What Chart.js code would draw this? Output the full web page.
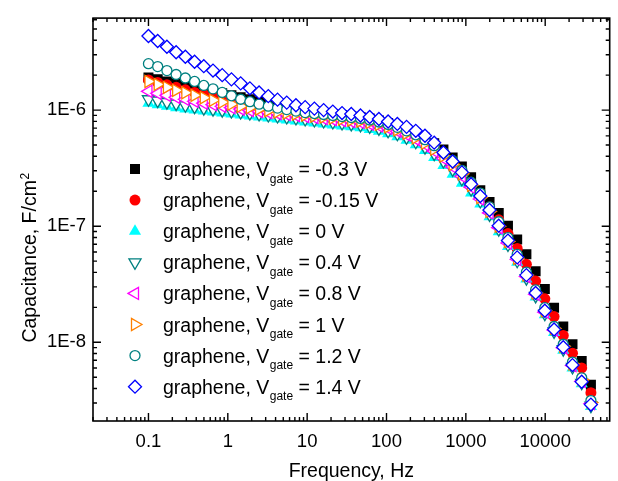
<!DOCTYPE html>
<html>
<head>
<meta charset="utf-8">
<script src="https://cdn.jsdelivr.net/npm/chart.js@4.4.1/dist/chart.umd.min.js"></script>
<style>
html,body{margin:0;padding:0;background:#fff;}
#wrap{width:618px;height:481px;position:relative;}
</style>
</head>
<body>
<div id="wrap"><canvas id="c" width="618" height="481"></canvas></div>
<script>
// ---------- data (capacitance in µF/cm², frequency in Hz) ----------
const frequencyHz = [0.1, 0.1307, 0.1708, 0.2232, 0.2916, 0.3811, 0.498, 0.6508, 0.8502, 1.111,
  1.452, 1.897, 2.478, 3.238, 4.231, 5.528, 7.223, 9.438, 12.33, 16.12,
  21.06, 27.52, 35.96, 46.99, 61.40, 80.23, 104.8, 137.0, 178.9, 233.8,
  305.5, 399.2, 521.7, 681.7, 890.8, 1164, 1521, 1988, 2597, 3394,
  4435, 5795, 7572, 9893, 12930, 16890, 22080, 28840, 37690];

const vgateLabels = ['-0.3 V', '-0.15 V', '0 V', '0.4 V', '0.8 V', '1 V', '1.2 V', '1.4 V'];

const capVm030 = [1.91, 1.84, 1.765, 1.70, 1.63, 1.57, 1.51, 1.45, 1.395, 1.34,
  1.29, 1.24, 1.19, 1.147, 1.10, 1.06, 1.03, 1.00, 0.971, 0.943,
  0.925, 0.907, 0.889, 0.872, 0.847, 0.814, 0.775, 0.731, 0.682, 0.631,
  0.578, 0.519, 0.457, 0.390, 0.327, 0.264, 0.2045, 0.1616, 0.1302, 0.101,
  0.0768, 0.0572, 0.0410, 0.0288, 0.01986, 0.01368, 0.00962, 0.00689, 0.00431];

const capVm015 = [1.82, 1.73, 1.65, 1.57, 1.494, 1.42, 1.368, 1.32, 1.265, 1.216,
  1.17, 1.125, 1.08, 1.04, 1.01, 0.981, 0.952, 0.934, 0.916, 0.898,
  0.880, 0.863, 0.847, 0.830, 0.806, 0.775, 0.738, 0.696, 0.650, 0.601,
  0.545, 0.484, 0.422, 0.361, 0.297, 0.239, 0.1854, 0.1466, 0.1136, 0.0864,
  0.0644, 0.0470, 0.0337, 0.0237, 0.01665, 0.01147, 0.00806, 0.00601, 0.00368];

const capV000 = [1.147, 1.114, 1.08, 1.05, 1.02, 1.00, 0.981, 0.962, 0.943, 0.925,
  0.907, 0.889, 0.872, 0.855, 0.838, 0.822, 0.806, 0.790, 0.775, 0.760,
  0.745, 0.731, 0.717, 0.703, 0.682, 0.656, 0.625, 0.589, 0.550, 0.504,
  0.448, 0.390, 0.334, 0.280, 0.2345, 0.1928, 0.1554, 0.1205, 0.0898, 0.0669,
  0.0489, 0.0351, 0.0246, 0.0173, 0.01216, 0.00855, 0.00601, 0.00439, 0.00280];

const capV040 = [1.24, 1.205, 1.17, 1.136, 1.10, 1.071, 1.04, 1.02, 1.00, 0.981,
  0.962, 0.943, 0.925, 0.907, 0.889, 0.872, 0.855, 0.838, 0.822, 0.806,
  0.790, 0.775, 0.760, 0.745, 0.724, 0.696, 0.663, 0.625, 0.583, 0.534,
  0.480, 0.422, 0.364, 0.3086, 0.256, 0.2086, 0.1648, 0.1265, 0.0943, 0.0696,
  0.0504, 0.0357, 0.0251, 0.01765, 0.0124, 0.00872, 0.00613, 0.00448, 0.00285];

const capV080 = [1.45, 1.395, 1.34, 1.29, 1.24, 1.19, 1.147, 1.114, 1.08, 1.05,
  1.02, 0.990, 0.971, 0.952, 0.934, 0.916, 0.898, 0.880, 0.863, 0.847,
  0.830, 0.814, 0.798, 0.783, 0.760, 0.731, 0.696, 0.656, 0.613, 0.561,
  0.504, 0.443, 0.383, 0.324, 0.269, 0.2169, 0.1714, 0.1302, 0.0971, 0.0717,
  0.0519, 0.0368, 0.0259, 0.01818, 0.01278, 0.00898, 0.00631, 0.00461, 0.00297];

const capV100 = [1.765, 1.665, 1.57, 1.48, 1.409, 1.34, 1.278, 1.216, 1.17, 1.125,
  1.08, 1.05, 1.02, 0.990, 0.962, 0.943, 0.925, 0.907, 0.889, 0.872,
  0.855, 0.838, 0.822, 0.806, 0.783, 0.753, 0.717, 0.676, 0.631, 0.578,
  0.519, 0.461, 0.402, 0.340, 0.2826, 0.2255, 0.1765, 0.1341, 0.100, 0.0738,
  0.0529, 0.0379, 0.0266, 0.0187, 0.01315, 0.00925, 0.0065, 0.00475, 0.00303];

const capV120 = [2.51, 2.37, 2.19, 2.025, 1.89, 1.765, 1.63, 1.524, 1.42, 1.328,
  1.24, 1.181, 1.125, 1.08, 1.04, 1.01, 0.981, 0.952, 0.934, 0.916,
  0.898, 0.880, 0.863, 0.847, 0.822, 0.790, 0.753, 0.710, 0.663, 0.613,
  0.556, 0.494, 0.431, 0.368, 0.3027, 0.239, 0.1928, 0.1466, 0.1092, 0.0798,
  0.0572, 0.0402, 0.02826, 0.01986, 0.01368, 0.00962, 0.00676, 0.00494, 0.00315];

const capV140 = [4.35, 3.94, 3.51, 3.15, 2.88, 2.61, 2.39, 2.19, 2.00, 1.84,
  1.70, 1.54, 1.42, 1.32, 1.23, 1.16, 1.10, 1.06, 1.03, 1.00,
  0.971, 0.943, 0.925, 0.898, 0.872, 0.838, 0.798, 0.760, 0.717, 0.663,
  0.601, 0.524, 0.431, 0.361, 0.291, 0.230, 0.182, 0.138, 0.101, 0.0752,
  0.0539, 0.0379, 0.0266, 0.0187, 0.0129, 0.00907, 0.00637, 0.00457, 0.00291];

const xTickValues = [0.1, 1, 10, 100, 1000, 10000];
const xTickLabels = ['0.1', '1', '10', '100', '1000', '10000'];
const yTickValues = [1e-8, 1e-7, 1e-6];
const yTickLabels = ['1E-8', '1E-7', '1E-6'];
const X_MIN = 0.02, X_MAX = 65000;
const Y_MIN = 2.1e-9, Y_MAX = 6.2e-6;
const MICRO = 1e-6;

// ---------- styles ----------
const FONT = '"Liberation Sans", Arial, sans-serif';
const seriesValues = [capVm030, capVm015, capV000, capV040, capV080, capV100, capV120, capV140];
const seriesStyles = [
  {style: 'rect',     rot: 0,   r: 7.07, fill: '#000000', stroke: '#000000', bw: 0},
  {style: 'circle',   rot: 0,   r: 5.5,  fill: '#ff0000', stroke: '#ff0000', bw: 0},
  {style: 'triangle', rot: 0,   r: 7,    fill: '#00ffff', stroke: '#00ffff', bw: 0},
  {style: 'triangle', rot: 180, r: 7,    fill: '#ffffff', stroke: '#008080', bw: 1.3},
  {style: 'triangle', rot: 270, r: 7,    fill: '#ffffff', stroke: '#ff00ff', bw: 1.3},
  {style: 'triangle', rot: 90,  r: 7,    fill: '#ffffff', stroke: '#ff8000', bw: 1.3},
  {style: 'circle',   rot: 0,   r: 5,    fill: '#ffffff', stroke: '#008080', bw: 1.3},
  {style: 'rectRot',  rot: 0,   r: 6.5,  fill: '#ffffff', stroke: '#0000ff', bw: 1.3}
];

const datasets = seriesValues.map((vals, i) => {
  const s = seriesStyles[i];
  return {
    label: 'graphene, Vgate = ' + vgateLabels[i],
    data: frequencyHz.map((f, k) => ({x: f, y: vals[k] * MICRO})),
    showLine: false,
    pointStyle: s.style,
    pointRotation: s.rot,
    pointRadius: s.r,
    pointBackgroundColor: s.fill,
    pointBorderColor: s.stroke,
    pointBorderWidth: s.bw,
    order: seriesValues.length - 1 - i
  };
});

// ---------- plugins ----------
function drawMarker(ctx, s, x, y) {
  ctx.save();
  ctx.fillStyle = s.fill; ctx.strokeStyle = s.stroke; ctx.lineWidth = s.bw;
  if (Chart.helpers && Chart.helpers.drawPoint) {
    Chart.helpers.drawPoint(ctx, {pointStyle: s.style, rotation: s.rot, radius: s.r, borderWidth: s.bw}, x, y);
  }
  ctx.restore();
}

const framePlugin = {
  id: 'originFrame',
  afterDatasetsDraw(chart) {
    const {ctx, chartArea: a, scales: {x, y}} = chart;
    ctx.save();
    ctx.strokeStyle = '#000';
    ctx.lineWidth = 1.4;
    ctx.beginPath();
    const MAJ = 8, MIN = 4;
    for (let e = -2; e <= 5; e++) {
      for (let m = 1; m <= 9; m++) {
        const v = m * Math.pow(10, e);
        if (v < X_MIN * 0.999 || v > X_MAX * 1.001) continue;
        const px = x.getPixelForValue(v);
        const L = m === 1 ? MAJ : MIN;
        ctx.moveTo(px, a.bottom); ctx.lineTo(px, a.bottom - L);
        ctx.moveTo(px, a.top); ctx.lineTo(px, a.top + L);
      }
    }
    for (let e = -9; e <= -6; e++) {
      for (let m = 1; m <= 9; m++) {
        const v = m * Math.pow(10, e);
        if (v < Y_MIN * 0.999 || v > Y_MAX * 1.001) continue;
        const py = y.getPixelForValue(v);
        const L = m === 1 ? MAJ : MIN;
        ctx.moveTo(a.left, py); ctx.lineTo(a.left + L, py);
        ctx.moveTo(a.right, py); ctx.lineTo(a.right - L, py);
      }
    }
    ctx.stroke();
    ctx.lineWidth = 1.6;
    ctx.strokeRect(a.left, a.top, a.right - a.left, a.bottom - a.top);
    ctx.restore();
  },
  afterDraw(chart) {
    const ctx = chart.ctx;
    ctx.save();
    ctx.fillStyle = '#000';
    // x title
    ctx.font = '19.5px ' + FONT;
    ctx.textAlign = 'center';
    ctx.textBaseline = 'alphabetic';
    ctx.fillText('Frequency, Hz', (chart.chartArea.left + chart.chartArea.right) / 2, 476.5);
    // y title (rotated, with superscript)
    ctx.save();
    ctx.translate(36, 258);
    ctx.rotate(-Math.PI / 2);
    ctx.textAlign = 'left';
    ctx.font = '19.5px ' + FONT;
    const main = 'Capacitance, F/cm';
    const wMain = ctx.measureText(main).width;
    ctx.font = '12px ' + FONT;
    const wSup = ctx.measureText('2').width;
    const x0 = -(wMain + wSup) / 2;
    ctx.font = '19.5px ' + FONT;
    ctx.fillText(main, x0, 0);
    ctx.font = '12px ' + FONT;
    ctx.fillText('2', x0 + wMain + 0.5, -7.5);
    ctx.restore();
    // legend
    const LX = 135, LY0 = 169, LSTEP = 31.1, TX = 163;
    seriesStyles.forEach((s, i) => {
      const yRow = LY0 + i * LSTEP;
      drawMarker(ctx, s, LX, yRow);
      ctx.fillStyle = '#000';
      ctx.textAlign = 'left';
      ctx.textBaseline = 'alphabetic';
      ctx.font = '19.5px ' + FONT;
      let tx = TX;
      ctx.fillText('graphene, V', tx, yRow + 7);
      tx += ctx.measureText('graphene, V').width + 0.5;
      ctx.font = '12px ' + FONT;
      ctx.fillText('gate', tx, yRow + 13.5);
      tx += ctx.measureText('gate').width;
      ctx.font = '19.5px ' + FONT;
      ctx.fillText(' = ' + vgateLabels[i], tx, yRow + 7);
    });
    ctx.restore();
  }
};

new Chart(document.getElementById('c'), {
  type: 'scatter',
  data: {datasets},
  options: {
    responsive: false,
    animation: false,
    devicePixelRatio: 1,
    layout: {padding: {left: 0, right: 7, top: 14, bottom: 0}},
    plugins: {legend: {display: false}, tooltip: {enabled: false}},
    scales: {
      x: {
        type: 'logarithmic', min: X_MIN, max: X_MAX,
        grid: {display: false, drawTicks: false},
        border: {display: false},
        ticks: {
          autoSkip: false, maxRotation: 0, padding: 10, color: '#000',
          font: {family: FONT, size: 18.5},
          callback: (v, i) => xTickLabels[i]
        },
        afterBuildTicks: s => { s.ticks = xTickValues.map(v => ({value: v})); },
        afterFit: s => { s.height = 60; }
      },
      y: {
        type: 'logarithmic', min: Y_MIN, max: Y_MAX,
        grid: {display: false, drawTicks: false},
        border: {display: false},
        ticks: {
          autoSkip: false, padding: 7, color: '#000',
          font: {family: FONT, size: 18.5},
          callback: (v, i) => yTickLabels[i]
        },
        afterBuildTicks: s => { s.ticks = yTickValues.map(v => ({value: v})); },
        afterFit: s => { s.width = 93; }
      }
    }
  },
  plugins: [framePlugin]
});
</script>
</body>
</html>
